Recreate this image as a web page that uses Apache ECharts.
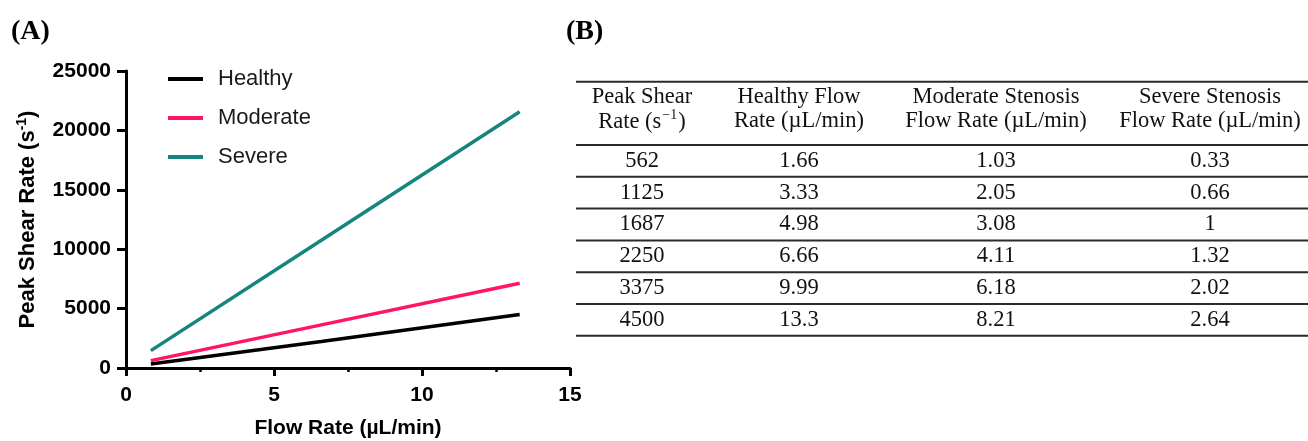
<!DOCTYPE html>
<html>
<head>
<meta charset="utf-8">
<script src="https://cdn.jsdelivr.net/npm/echarts@6/dist/echarts.min.js"></script>
<style>
html,body{margin:0;padding:0;background:#fff;}
#chart{width:1308px;height:441px;}
</style>
</head>
<body>
<div id="chart"></div>
<script>
// ---- Panel A data ----
const flowRate = [0.84, 6.6, 13.3];
const healthyShear = [330, 2230, 4500];
const moderateShear = [620, 3630, 7130];
const severeShear = [1460, 10750, 21570];
const seriesNames = ['Healthy', 'Moderate', 'Severe'];
const xTicks = [0, 5, 10, 15];
const yTicks = [0, 5000, 10000, 15000, 20000, 25000];

// ---- Panel B table ----
const headerLine1 = ['Peak Shear', 'Healthy Flow', 'Moderate Stenosis', 'Severe Stenosis'];
const headerLine2 = ['{n|Rate (s}{sup|\u22121}{n|)}', 'Rate (\u00b5L/min)', 'Flow Rate (\u00b5L/min)', 'Flow Rate (\u00b5L/min)'];
const shearRates = ['562', '1125', '1687', '2250', '3375', '4500'];
const healthyFlow = ['1.66', '3.33', '4.98', '6.66', '9.99', '13.3'];
const moderateFlow = ['1.03', '2.05', '3.08', '4.11', '6.18', '8.21'];
const severeFlow = ['0.33', '0.66', '1', '1.32', '2.02', '2.64'];

const colors = ['#000000', '#ff1466', '#16847f'];

function pairs(xs, ys) { return xs.map((x, i) => [x, ys[i]]); }

// table layout
const tblLeft = 576, tblRight = 1308, tblTop = 81.7, headBottom = 145, rowH = 31.8;
const colX = [642, 799, 996, 1210];
const serif = '"Liberation Serif", "Times New Roman", serif';
const tFont = '22.5px ' + serif;

const graphics = [];
graphics.push({ type: 'text', left: 11, top: 18, style: { text: '(A)', font: 'bold 28px ' + serif, fill: '#000' } });
graphics.push({ type: 'text', left: 566, top: 18, style: { text: '(B)', font: 'bold 28px ' + serif, fill: '#000' } });
const lineYs = [tblTop, headBottom];
for (let i = 1; i <= shearRates.length; i++) lineYs.push(headBottom + i * rowH);
lineYs.forEach(y => graphics.push({
  type: 'line', shape: { x1: tblLeft, y1: y, x2: tblRight, y2: y },
  style: { stroke: '#2a2a2a', lineWidth: 2 }
}));
function cell(txt, x, y, rich) {
  const st = { text: txt, x: x, y: y, font: tFont, fill: '#111', align: 'center', verticalAlign: 'middle', textAlign: 'center', textVerticalAlign: 'middle' };
  if (rich) st.rich = rich;
  graphics.push({ type: 'text', style: st });
}
const headRich = {
  n: { fontFamily: serif, fontSize: 22.5, lineHeight: 26, color: '#111', verticalAlign: 'bottom' },
  sup: { fontFamily: serif, fontSize: 14, lineHeight: 26, color: '#111', verticalAlign: 'top', padding: [0, 1, 0, 1] }
};
headerLine1.forEach((t, c) => cell(t, colX[c], 97.5));
headerLine2.forEach((t, c) => cell(t, colX[c], 121, c === 0 ? headRich : null));
const cols = [shearRates, healthyFlow, moderateFlow, severeFlow];
cols.forEach((col, c) => col.forEach((v, r) => cell(v, colX[c], headBottom + (r + 0.5) * rowH)));

const sans = '"Liberation Sans", Arial, sans-serif';
const chart = echarts.init(document.getElementById('chart'), null, { renderer: 'canvas' });
chart.setOption({
  animation: false,
  backgroundColor: '#fff',
  grid: { left: 126, top: 71, width: 444, height: 297, containLabel: false, outerBoundsMode: 'none' },
  legend: {
    orient: 'vertical', left: 163, top: 63,
    icon: 'rect', itemWidth: 35, itemHeight: 4, itemGap: 17,
    textStyle: { fontFamily: sans, fontSize: 22, lineHeight: 22, color: '#1a1a1a', padding: [0, 0, 0, 10] },
    data: seriesNames
  },
  xAxis: {
    type: 'value', min: 0, max: 15, interval: 5,
    name: 'Flow Rate (\u00b5L/min)', nameLocation: 'middle', nameGap: 50,
    nameTextStyle: { fontFamily: sans, fontSize: 21, fontWeight: 'bold', color: '#000' },
    axisLine: { show: true, lineStyle: { color: '#000', width: 3 } },
    axisTick: { show: true, length: 8, lineStyle: { color: '#000', width: 3 } },
    minorTick: { show: true, splitNumber: 2, length: 4, lineStyle: { color: '#000', width: 2.5 } },
    axisLabel: { margin: 17, fontFamily: sans, fontSize: 21, fontWeight: 'bold', color: '#000',
      formatter: v => String(v) },
    splitLine: { show: false }
  },
  yAxis: {
    type: 'value', min: 0, max: 25000, interval: 5000,
    name: '{b|Peak Shear Rate (s}{sup|-1}{b|)}', nameLocation: 'middle', nameGap: 87,
    nameTextStyle: {
      rich: {
        b: { fontFamily: sans, fontSize: 22, fontWeight: 'bold', color: '#000', lineHeight: 24, verticalAlign: 'bottom' },
        sup: { fontFamily: sans, fontSize: 14, fontWeight: 'bold', color: '#000', lineHeight: 24, verticalAlign: 'top' }
      }
    },
    axisLine: { show: true, lineStyle: { color: '#000', width: 3 } },
    axisTick: { show: true, length: 9, lineStyle: { color: '#000', width: 3 } },
    axisLabel: { margin: 15, fontFamily: sans, fontSize: 21, fontWeight: 'bold', color: '#000',
      formatter: v => String(v) },
    splitLine: { show: false }
  },
  series: [
    { name: seriesNames[0], type: 'line', data: pairs(flowRate, healthyShear), showSymbol: false, symbol: 'none',
      lineStyle: { color: colors[0], width: 3.5 }, itemStyle: { color: colors[0] } },
    { name: seriesNames[1], type: 'line', data: pairs(flowRate, moderateShear), showSymbol: false, symbol: 'none',
      lineStyle: { color: colors[1], width: 3.5 }, itemStyle: { color: colors[1] } },
    { name: seriesNames[2], type: 'line', data: pairs(flowRate, severeShear), showSymbol: false, symbol: 'none',
      lineStyle: { color: colors[2], width: 3.5 }, itemStyle: { color: colors[2] } }
  ],
  graphic: { elements: graphics }
});
</script>
</body>
</html>
